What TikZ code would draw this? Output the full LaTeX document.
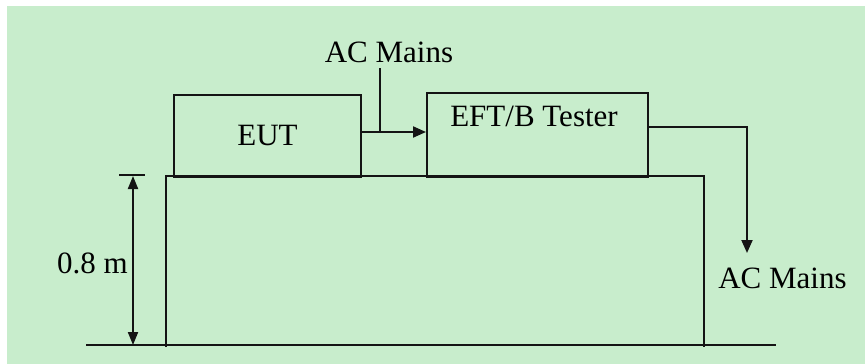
\documentclass[tikz,border=0pt]{standalone}
\usepackage{fontspec}
\setmainfont{Liberation Serif}
\usetikzlibrary{arrows.meta}
\definecolor{bggreen}{RGB}{200,237,204}
\definecolor{ink}{RGB}{20,20,20}
\tikzset{
  box/.style={draw=ink, line width=2pt, rectangle, inner sep=0pt},
  lbl/.style={font=\fontsize{31}{36}\selectfont, text=black, inner sep=0pt, anchor=base},
  wire/.style={draw=ink, line width=2pt},
  arr/.style={wire, -{Triangle[length=13pt,width=11pt]}},
  arrboth/.style={wire, {Triangle[length=13pt,width=10pt]}-{Triangle[length=13pt,width=10pt]}}
}
\begin{document}
\begin{tikzpicture}[x=1pt,y=-1pt]
\useasboundingbox (0,0) rectangle (865,364);
\fill[white] (0,0) rectangle (865,364);
\fill[bggreen] (7,6) rectangle (865,364);

% table
\draw[wire] (166,347) -- (166,176) -- (704,176) -- (704,347);
% floor
\draw[wire] (86,345) -- (776,345);

% boxes
\node[box, minimum width=187pt, minimum height=82pt, font=\fontsize{31}{36}\selectfont] (eut) at (267.5,136) {EUT};
\node[box, minimum width=221pt, minimum height=84pt] (tester) at (537.5,135) {};
\node[lbl] (testerlabel) at (534,126) {EFT/B Tester};

% AC mains input
\node[lbl] (acin) at (389,62) {AC Mains};
\coordinate (junc) at (380,132);
\coordinate (actop) at (380,68);
\draw[wire] (actop) -- (junc);
\draw[arr] (eut.east |- junc) -- (tester.west |- junc);

% AC mains output
\coordinate (outy) at (0,127);
\coordinate (outend) at (747,253);
\draw[arr] (tester.east |- outy) -| (outend);
\node[lbl] (acout) at (782.5,288) {AC Mains};

% dimension
\coordinate (dimtop) at (133,176);
\coordinate (dimbot) at (133,345);
\draw[arrboth] (dimtop) -- (dimbot);
\coordinate (ticka) at (119,175);
\coordinate (tickb) at (145,175);
\draw[wire] (ticka) -- (tickb);
\node[lbl] (dimlbl) at (92.5,273) {0.8 m};
\end{tikzpicture}
\end{document}
